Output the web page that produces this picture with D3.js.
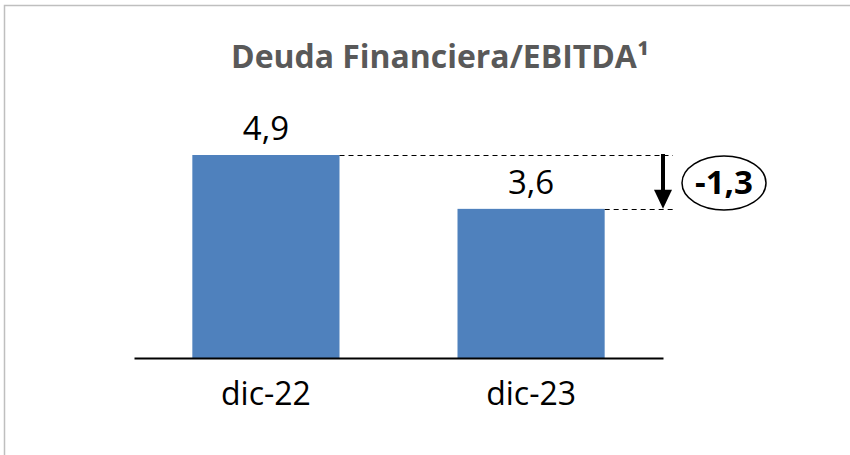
<!DOCTYPE html>
<html>
<head>
<meta charset="utf-8">
<script src="https://cdn.jsdelivr.net/npm/d3@7"></script>
<style>
  body { margin: 0; background: #fff; }
  svg text { font-family: "Open Sans", "Liberation Sans", sans-serif; }
</style>
</head>
<body>
<svg id="chart" width="850" height="455"></svg>
<script>
// datos
var categorias = ["dic-22", "dic-23"];
var valores = [4.9, 3.6];
var titulo = "Deuda Financiera/EBITDA\u00b9";
var variacion = "-1,3";

var es = d3.formatLocale({decimal: ",", thousands: ".", grouping: [3], currency: ["", " €"]});
var fmt = es.format(".1f");

var svg = d3.select("#chart");

// marco gris (solo arriba e izquierda se ven)
svg.append("path")
  .attr("d", "M4.5,455 V5.5 H850")
  .attr("fill", "none")
  .attr("stroke", "#bfbfbf")
  .attr("stroke-width", 1.5);

var x = d3.scaleBand()
  .domain(categorias)
  .range([134, 663])
  .paddingInner(0.445)
  .paddingOuter(0.22);

var y = d3.scaleLinear()
  .domain([0, 4.9])
  .range([358, 155]);

// titulo
svg.append("text")
  .attr("x", 440)
  .attr("y", 68)
  .attr("text-anchor", "middle")
  .attr("fill", "#595959")
  .attr("font-weight", "bold")
  .attr("font-size", 32)
  .attr("textLength", 418)
  .attr("lengthAdjust", "spacingAndGlyphs")
  .text(titulo);

// barras
svg.selectAll("rect.barra")
  .data(valores)
  .enter().append("rect")
  .attr("class", "barra")
  .attr("x", (d, i) => x(categorias[i]))
  .attr("width", x.bandwidth())
  .attr("y", d => y(d))
  .attr("height", d => y(0) - y(d))
  .attr("fill", "#4f81bd");

// etiquetas de valor
svg.selectAll("text.valor")
  .data(valores)
  .enter().append("text")
  .attr("class", "valor")
  .attr("x", (d, i) => x(categorias[i]) + x.bandwidth() / 2)
  .attr("y", d => y(d) - 15)
  .attr("text-anchor", "middle")
  .attr("font-size", 33)
  .attr("fill", "#000")
  .text(d => fmt(d));

// eje x
var eje = svg.append("g")
  .attr("transform", "translate(0," + y(0) + ")")
  .call(d3.axisBottom(x).tickSize(0).tickPadding(24));
eje.select(".domain").attr("stroke", "#000").attr("stroke-width", 2);
eje.selectAll(".tick text")
  .attr("font-size", 32)
  .attr("fill", "#000")
  .style("font-family", "'Open Sans', sans-serif");

// lineas discontinuas
var xFin = 673;
svg.selectAll("line.guia")
  .data(valores)
  .enter().append("line")
  .attr("class", "guia")
  .attr("x1", (d, i) => x(categorias[i]) + x.bandwidth())
  .attr("x2", xFin)
  .attr("y1", d => Math.round(y(d)) + 0.5)
  .attr("y2", d => Math.round(y(d)) + 0.5)
  .attr("stroke", "#000")
  .attr("stroke-width", 1)
  .attr("stroke-dasharray", "5,4");

// flecha
var xf = 663;
svg.append("line")
  .attr("x1", xf).attr("x2", xf)
  .attr("y1", y(valores[0]) - 1)
  .attr("y2", y(valores[1]) - 16)
  .attr("stroke", "#000")
  .attr("stroke-width", 4);
svg.append("path")
  .attr("d", "M" + (xf - 9) + "," + (y(valores[1]) - 19) + " L" + (xf + 9) + "," + (y(valores[1]) - 19) + " L" + xf + "," + y(valores[1]) + " Z")
  .attr("fill", "#000");

// ovalo con la variacion
var cx = 724, cy = 183;
svg.append("ellipse")
  .attr("cx", cx).attr("cy", cy)
  .attr("rx", 42).attr("ry", 27)
  .attr("fill", "#fff")
  .attr("stroke", "#000")
  .attr("stroke-width", 1.5);
svg.append("text")
  .attr("x", cx)
  .attr("y", cy + 11)
  .attr("text-anchor", "middle")
  .attr("font-size", 32)
  .attr("font-weight", "bold")
  .attr("fill", "#000")
  .attr("textLength", 58)
  .attr("lengthAdjust", "spacingAndGlyphs")
  .text(variacion);
</script>
</body>
</html>
